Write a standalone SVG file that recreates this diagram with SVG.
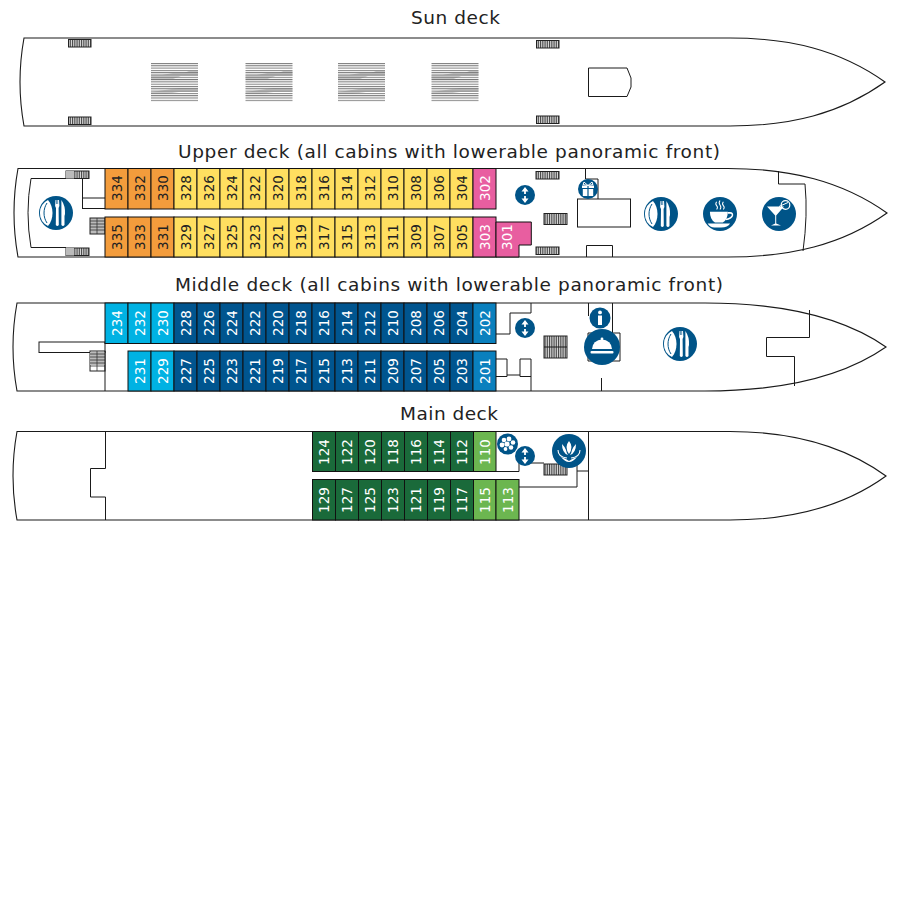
<svg xmlns="http://www.w3.org/2000/svg" xmlns:xlink="http://www.w3.org/1999/xlink" width="900" height="900" viewBox="0 0 900 900">
<style>
.title{font-family:"DejaVu Sans","Liberation Sans",sans-serif;font-size:18.5px;fill:#222;text-anchor:middle}
.ln{fill:none;stroke:#1a1a1a;stroke-width:1}
.box{fill:#fff;stroke:#1a1a1a;stroke-width:1}
.hull{fill:#fff;stroke:#1a1a1a;stroke-width:1.1}
.stair{fill:url(#sv);stroke:#222;stroke-width:1}
.cab rect,.cab path{stroke:#111;stroke-width:1}
.cab text{font-family:"DejaVu Sans","Liberation Sans",sans-serif;font-size:13.5px;text-anchor:middle;dominant-baseline:central}
.or rect{fill:#f39c3c}.ye rect{fill:#ffdf60}.pk rect,.pk path{fill:#e85ea0}
.cy rect{fill:#00b2e3}.db rect{fill:#00558f}.mb rect{fill:#0a80be}
.dg rect{fill:#1a6a3a}.lg rect{fill:#6cb650}
.or text,.ye text{fill:#222}
.pk text,.cy text,.db text,.mb text,.dg text,.lg text{fill:#fff}
.ic{fill:#005488}.w{fill:#fff}.ws{fill:none;stroke:#fff}
</style>
<defs>
<pattern id="sv" width="1.8" height="4" patternUnits="userSpaceOnUse"><rect width="1.8" height="4" fill="#ddd"/><rect width=".9" height="4" fill="#444"/></pattern>
<pattern id="sh" width="4" height="2.3" patternUnits="userSpaceOnUse"><rect width="4" height="1" fill="#777"/></pattern>
<g id="lounger">
<rect width="47" height="39" fill="#fff"/>
<path d="M0,12 L11,12 L22,10 L33,10 L38,8 L47,8 L47,13 L30,13 L22,16 L0,16Z M28,25 L47,25 L47,29 L28,29 L14,31 L0,31 L0,29 L14,27Z" fill="#ccc"/>
<rect width="47" height="39" fill="url(#sh)"/>
</g>
<g id="lift"><circle r="10" class="ic"/><path class="w" d="M0,-8 L3.5,-3.6 L.9,-3.6 L.9,-1 L-.9,-1 L-.9,-3.6 L-3.5,-3.6Z M0,8 L3.5,3.6 L.9,3.6 L.9,1 L-.9,1 L-.9,3.6 L-3.5,3.6Z"/></g>
<g id="dining"><circle r="17" class="ic"/>
<path class="w" d="M-8,-13 A14.5,14.5 0 0 0 -8,13 C-2,6 -2,-6 -8,-13Z"/>
<path d="M-9,-10 C-13,-4 -13,4 -9,10" fill="none" stroke="#005488" stroke-width="1"/>
<path class="w" d="M-.5,-13 L.2,-13 L.2,-9 L.8,-9 L.8,-13 L1.5,-13 L1.5,-9 L2.1,-9 L2.1,-13 L3,-13 L3.4,-7 L2.6,-5 L2.8,12 Q1.3,14 -.2,12 L0,-5 L-.9,-7Z"/>
<path class="w" d="M5.4,-13 Q9.5,-7 9,1 L8.5,3 L8.5,12 Q7,14 5.4,12Z"/>
</g>
</defs>

<text class="title" x="455.5" y="24" textLength="89" lengthAdjust="spacing">Sun deck</text>
<text class="title" x="449" y="158" textLength="542" lengthAdjust="spacing">Upper deck (all cabins with lowerable panoramic front)</text>
<text class="title" x="449" y="291" textLength="548" lengthAdjust="spacing">Middle deck (all cabins with lowerable panoramic front)</text>
<text class="title" x="449" y="420" textLength="98" lengthAdjust="spacing">Main deck</text>

<g id="sun-deck">
<path class="hull" d="M24,38 H730 C790,38 840,50 885,82 C840,114 790,126 730,126 H24 Q16,82 24,38Z"/>
<rect class="stair" x="68.5" y="39.5" width="22.5" height="7.5"/>
<rect class="stair" x="68.5" y="117" width="22.5" height="7.5"/>
<rect class="stair" x="536.5" y="40.5" width="22.5" height="7.5"/>
<rect class="stair" x="536.5" y="116" width="22.5" height="7.5"/>
<use xlink:href="#lounger" href="#lounger" x="151" y="63"/>
<use xlink:href="#lounger" href="#lounger" x="245.5" y="63"/>
<use xlink:href="#lounger" href="#lounger" x="338" y="63"/>
<use xlink:href="#lounger" href="#lounger" x="431.5" y="63"/>
<path class="box" d="M588.5,68 H627 L631,78 V87 L627,96.5 H588.5Z"/>
</g>

<g id="upper-deck">
<path class="hull" d="M18,168.5 H728 C790,168.5 842,181 887,213 C842,245 790,257 728,257 H18 Q10,212.5 18,168.5Z"/>
<path class="ln" d="M66,178.5 H31 Q25,212.5 31,247.5 H66"/>
<path class="ln" d="M82.5,178.5 V209 M82.5,198 H105 M82.5,208.5 H105"/>
<rect class="stair" x="66" y="171" width="23" height="7.5"/><rect x="66" y="171" width="8" height="7.5" fill="#bbb"/>
<rect class="stair" x="66" y="248" width="23" height="7.5"/><rect x="66" y="248" width="8" height="7.5" fill="#bbb"/>
<rect x="90" y="218" width="15" height="16" fill="#bbb" stroke="#222"/>
<path d="M90,221 H105 M90,224 H105 M90,227 H105 M90,230 H105 M97,218 V234" stroke="#333" stroke-width=".8" fill="none"/>
<rect class="stair" x="536" y="171.5" width="23" height="7.5"/>
<rect class="stair" x="544" y="213.5" width="23" height="11"/>
<rect class="stair" x="536" y="247" width="23" height="7.5"/>
<path class="ln" d="M585.5,168.5 V179 H598 V199"/>
<rect class="box" x="577.5" y="199" width="53" height="28"/>
<path class="ln" d="M586.5,257 V245.5 H612.5 V257"/>
<path class="ln" d="M778.5,171 V184 H805 Q808,215 803,251"/>
</g>

<g id="middle-deck">
<path class="hull" d="M17,303 H705 C775,303 840,315 886,347 C840,379 775,391 705,391 H17 Q9,347 17,303Z"/>
<rect class="box" x="39" y="342" width="66" height="10.5"/>
<rect x="90" y="351" width="15" height="20" fill="#fff" stroke="#222"/>
<rect x="90" y="352" width="15" height="13" fill="#bbb"/>
<path d="M90,354 H105 M90,357 H105 M90,360 H105 M90,363 H105 M90,366 H105 M97,351 V371" stroke="#333" stroke-width=".8" fill="none"/>
<path class="ln" d="M105,351 V391"/>
<path class="ln" d="M531,303 V313 H510 V334 H496"/>
<path class="ln" d="M496,359 H507 V376.5 H496 M507,375 H520 M531,359 H520 V376.5 H531 M531,359 V391"/>
<rect class="stair" x="544" y="336" width="23" height="22"/><path class="ln" d="M544,347 H567"/>
<path class="ln" d="M588.5,303 V316 M612.5,303 V333 M588,333 H620 V361 H588Z M601.5,378 V391"/>
<path class="ln" d="M809.5,310 V337.5 H766.5 V356.5 H794.5 V386"/>
</g>

<g id="main-deck">
<path class="hull" d="M17,431.5 H730 C790,431.5 842,444 886,476 C842,508 790,520 730,520 H17 Q9,476 17,431.5Z"/>
<path class="ln" d="M105.5,431.5 V468.5 H90.5 V497 H105.5 V520"/>
<path class="ln" d="M588.5,431.5 V520"/>
<path class="ln" d="M496,471.5 H519 V463 H544 M312,471.5 H496 M312,479.5 H519 M519,487 H577 V471 H588.5 M577,463 V471"/>
<rect class="stair" x="544" y="464" width="23" height="11"/>
</g>

<g id="cabins-upper">
<g id="c334" class="cab or"><rect x="105" y="168.5" width="23" height="40.5"/><text transform="translate(116.5 188) rotate(-90)">334</text></g>
<g id="c332" class="cab or"><rect x="128" y="168.5" width="23" height="40.5"/><text transform="translate(139.5 188) rotate(-90)">332</text></g>
<g id="c330" class="cab or"><rect x="151" y="168.5" width="23" height="40.5"/><text transform="translate(162.5 188) rotate(-90)">330</text></g>
<g id="c328" class="cab ye"><rect x="174" y="168.5" width="23" height="40.5"/><text transform="translate(185.5 188) rotate(-90)">328</text></g>
<g id="c326" class="cab ye"><rect x="197" y="168.5" width="23" height="40.5"/><text transform="translate(208.5 188) rotate(-90)">326</text></g>
<g id="c324" class="cab ye"><rect x="220" y="168.5" width="23" height="40.5"/><text transform="translate(231.5 188) rotate(-90)">324</text></g>
<g id="c322" class="cab ye"><rect x="243" y="168.5" width="23" height="40.5"/><text transform="translate(254.5 188) rotate(-90)">322</text></g>
<g id="c320" class="cab ye"><rect x="266" y="168.5" width="23" height="40.5"/><text transform="translate(277.5 188) rotate(-90)">320</text></g>
<g id="c318" class="cab ye"><rect x="289" y="168.5" width="23" height="40.5"/><text transform="translate(300.5 188) rotate(-90)">318</text></g>
<g id="c316" class="cab ye"><rect x="312" y="168.5" width="23" height="40.5"/><text transform="translate(323.5 188) rotate(-90)">316</text></g>
<g id="c314" class="cab ye"><rect x="335" y="168.5" width="23" height="40.5"/><text transform="translate(346.5 188) rotate(-90)">314</text></g>
<g id="c312" class="cab ye"><rect x="358" y="168.5" width="23" height="40.5"/><text transform="translate(369.5 188) rotate(-90)">312</text></g>
<g id="c310" class="cab ye"><rect x="381" y="168.5" width="23" height="40.5"/><text transform="translate(392.5 188) rotate(-90)">310</text></g>
<g id="c308" class="cab ye"><rect x="404" y="168.5" width="23" height="40.5"/><text transform="translate(415.5 188) rotate(-90)">308</text></g>
<g id="c306" class="cab ye"><rect x="427" y="168.5" width="23" height="40.5"/><text transform="translate(438.5 188) rotate(-90)">306</text></g>
<g id="c304" class="cab ye"><rect x="450" y="168.5" width="23" height="40.5"/><text transform="translate(461.5 188) rotate(-90)">304</text></g>
<g id="c302" class="cab pk"><rect x="473" y="168.5" width="23" height="40.5"/><text transform="translate(484.5 188) rotate(-90)">302</text></g>
<g id="c335" class="cab or"><rect x="105" y="217" width="23" height="40"/><text transform="translate(116.5 237) rotate(-90)">335</text></g>
<g id="c333" class="cab or"><rect x="128" y="217" width="23" height="40"/><text transform="translate(139.5 237) rotate(-90)">333</text></g>
<g id="c331" class="cab or"><rect x="151" y="217" width="23" height="40"/><text transform="translate(162.5 237) rotate(-90)">331</text></g>
<g id="c329" class="cab ye"><rect x="174" y="217" width="23" height="40"/><text transform="translate(185.5 237) rotate(-90)">329</text></g>
<g id="c327" class="cab ye"><rect x="197" y="217" width="23" height="40"/><text transform="translate(208.5 237) rotate(-90)">327</text></g>
<g id="c325" class="cab ye"><rect x="220" y="217" width="23" height="40"/><text transform="translate(231.5 237) rotate(-90)">325</text></g>
<g id="c323" class="cab ye"><rect x="243" y="217" width="23" height="40"/><text transform="translate(254.5 237) rotate(-90)">323</text></g>
<g id="c321" class="cab ye"><rect x="266" y="217" width="23" height="40"/><text transform="translate(277.5 237) rotate(-90)">321</text></g>
<g id="c319" class="cab ye"><rect x="289" y="217" width="23" height="40"/><text transform="translate(300.5 237) rotate(-90)">319</text></g>
<g id="c317" class="cab ye"><rect x="312" y="217" width="23" height="40"/><text transform="translate(323.5 237) rotate(-90)">317</text></g>
<g id="c315" class="cab ye"><rect x="335" y="217" width="23" height="40"/><text transform="translate(346.5 237) rotate(-90)">315</text></g>
<g id="c313" class="cab ye"><rect x="358" y="217" width="23" height="40"/><text transform="translate(369.5 237) rotate(-90)">313</text></g>
<g id="c311" class="cab ye"><rect x="381" y="217" width="23" height="40"/><text transform="translate(392.5 237) rotate(-90)">311</text></g>
<g id="c309" class="cab ye"><rect x="404" y="217" width="23" height="40"/><text transform="translate(415.5 237) rotate(-90)">309</text></g>
<g id="c307" class="cab ye"><rect x="427" y="217" width="23" height="40"/><text transform="translate(438.5 237) rotate(-90)">307</text></g>
<g id="c305" class="cab ye"><rect x="450" y="217" width="23" height="40"/><text transform="translate(461.5 237) rotate(-90)">305</text></g>
<g id="c303" class="cab pk"><rect x="473" y="217" width="23" height="40"/><text transform="translate(484.5 237) rotate(-90)">303</text></g>
<g id="c301" class="cab pk"><path d="M496,222 H531.3 V245 H519 V257 H496Z"/><text transform="translate(507 237) rotate(-90)">301</text></g>
</g>

<g id="cabins-middle">
<g id="c234" class="cab cy"><rect x="105" y="303" width="23" height="40.5"/><text transform="translate(116.5 323) rotate(-90)">234</text></g>
<g id="c232" class="cab cy"><rect x="128" y="303" width="23" height="40.5"/><text transform="translate(139.5 323) rotate(-90)">232</text></g>
<g id="c230" class="cab cy"><rect x="151" y="303" width="23" height="40.5"/><text transform="translate(162.5 323) rotate(-90)">230</text></g>
<g id="c228" class="cab db"><rect x="174" y="303" width="23" height="40.5"/><text transform="translate(185.5 323) rotate(-90)">228</text></g>
<g id="c226" class="cab db"><rect x="197" y="303" width="23" height="40.5"/><text transform="translate(208.5 323) rotate(-90)">226</text></g>
<g id="c224" class="cab db"><rect x="220" y="303" width="23" height="40.5"/><text transform="translate(231.5 323) rotate(-90)">224</text></g>
<g id="c222" class="cab db"><rect x="243" y="303" width="23" height="40.5"/><text transform="translate(254.5 323) rotate(-90)">222</text></g>
<g id="c220" class="cab db"><rect x="266" y="303" width="23" height="40.5"/><text transform="translate(277.5 323) rotate(-90)">220</text></g>
<g id="c218" class="cab db"><rect x="289" y="303" width="23" height="40.5"/><text transform="translate(300.5 323) rotate(-90)">218</text></g>
<g id="c216" class="cab db"><rect x="312" y="303" width="23" height="40.5"/><text transform="translate(323.5 323) rotate(-90)">216</text></g>
<g id="c214" class="cab db"><rect x="335" y="303" width="23" height="40.5"/><text transform="translate(346.5 323) rotate(-90)">214</text></g>
<g id="c212" class="cab db"><rect x="358" y="303" width="23" height="40.5"/><text transform="translate(369.5 323) rotate(-90)">212</text></g>
<g id="c210" class="cab db"><rect x="381" y="303" width="23" height="40.5"/><text transform="translate(392.5 323) rotate(-90)">210</text></g>
<g id="c208" class="cab db"><rect x="404" y="303" width="23" height="40.5"/><text transform="translate(415.5 323) rotate(-90)">208</text></g>
<g id="c206" class="cab db"><rect x="427" y="303" width="23" height="40.5"/><text transform="translate(438.5 323) rotate(-90)">206</text></g>
<g id="c204" class="cab db"><rect x="450" y="303" width="23" height="40.5"/><text transform="translate(461.5 323) rotate(-90)">204</text></g>
<g id="c202" class="cab mb"><rect x="473" y="303" width="23" height="40.5"/><text transform="translate(484.5 323) rotate(-90)">202</text></g>
<g id="c231" class="cab cy"><rect x="128" y="351" width="23" height="40"/><text transform="translate(139.5 371) rotate(-90)">231</text></g>
<g id="c229" class="cab cy"><rect x="151" y="351" width="23" height="40"/><text transform="translate(162.5 371) rotate(-90)">229</text></g>
<g id="c227" class="cab db"><rect x="174" y="351" width="23" height="40"/><text transform="translate(185.5 371) rotate(-90)">227</text></g>
<g id="c225" class="cab db"><rect x="197" y="351" width="23" height="40"/><text transform="translate(208.5 371) rotate(-90)">225</text></g>
<g id="c223" class="cab db"><rect x="220" y="351" width="23" height="40"/><text transform="translate(231.5 371) rotate(-90)">223</text></g>
<g id="c221" class="cab db"><rect x="243" y="351" width="23" height="40"/><text transform="translate(254.5 371) rotate(-90)">221</text></g>
<g id="c219" class="cab db"><rect x="266" y="351" width="23" height="40"/><text transform="translate(277.5 371) rotate(-90)">219</text></g>
<g id="c217" class="cab db"><rect x="289" y="351" width="23" height="40"/><text transform="translate(300.5 371) rotate(-90)">217</text></g>
<g id="c215" class="cab db"><rect x="312" y="351" width="23" height="40"/><text transform="translate(323.5 371) rotate(-90)">215</text></g>
<g id="c213" class="cab db"><rect x="335" y="351" width="23" height="40"/><text transform="translate(346.5 371) rotate(-90)">213</text></g>
<g id="c211" class="cab db"><rect x="358" y="351" width="23" height="40"/><text transform="translate(369.5 371) rotate(-90)">211</text></g>
<g id="c209" class="cab db"><rect x="381" y="351" width="23" height="40"/><text transform="translate(392.5 371) rotate(-90)">209</text></g>
<g id="c207" class="cab db"><rect x="404" y="351" width="23" height="40"/><text transform="translate(415.5 371) rotate(-90)">207</text></g>
<g id="c205" class="cab db"><rect x="427" y="351" width="23" height="40"/><text transform="translate(438.5 371) rotate(-90)">205</text></g>
<g id="c203" class="cab db"><rect x="450" y="351" width="23" height="40"/><text transform="translate(461.5 371) rotate(-90)">203</text></g>
<g id="c201" class="cab mb"><rect x="473" y="351" width="23" height="40"/><text transform="translate(484.5 371) rotate(-90)">201</text></g>
</g>

<g id="cabins-main">
<g id="c124" class="cab dg"><rect x="312.5" y="431.5" width="23" height="40"/><text transform="translate(324 452) rotate(-90)">124</text></g>
<g id="c122" class="cab dg"><rect x="335.5" y="431.5" width="23" height="40"/><text transform="translate(347 452) rotate(-90)">122</text></g>
<g id="c120" class="cab dg"><rect x="358.5" y="431.5" width="23" height="40"/><text transform="translate(370 452) rotate(-90)">120</text></g>
<g id="c118" class="cab dg"><rect x="381.5" y="431.5" width="23" height="40"/><text transform="translate(393 452) rotate(-90)">118</text></g>
<g id="c116" class="cab dg"><rect x="404.5" y="431.5" width="23" height="40"/><text transform="translate(416 452) rotate(-90)">116</text></g>
<g id="c114" class="cab dg"><rect x="427.5" y="431.5" width="23" height="40"/><text transform="translate(439 452) rotate(-90)">114</text></g>
<g id="c112" class="cab dg"><rect x="450.5" y="431.5" width="23" height="40"/><text transform="translate(462 452) rotate(-90)">112</text></g>
<g id="c110" class="cab lg"><rect x="473.5" y="431.5" width="22.5" height="40"/><text transform="translate(485 452) rotate(-90)">110</text></g>
<g id="c129" class="cab dg"><rect x="312.5" y="479.5" width="23" height="40.5"/><text transform="translate(324 500) rotate(-90)">129</text></g>
<g id="c127" class="cab dg"><rect x="335.5" y="479.5" width="23" height="40.5"/><text transform="translate(347 500) rotate(-90)">127</text></g>
<g id="c125" class="cab dg"><rect x="358.5" y="479.5" width="23" height="40.5"/><text transform="translate(370 500) rotate(-90)">125</text></g>
<g id="c123" class="cab dg"><rect x="381.5" y="479.5" width="23" height="40.5"/><text transform="translate(393 500) rotate(-90)">123</text></g>
<g id="c121" class="cab dg"><rect x="404.5" y="479.5" width="23" height="40.5"/><text transform="translate(416 500) rotate(-90)">121</text></g>
<g id="c119" class="cab dg"><rect x="427.5" y="479.5" width="23" height="40.5"/><text transform="translate(439 500) rotate(-90)">119</text></g>
<g id="c117" class="cab dg"><rect x="450.5" y="479.5" width="23" height="40.5"/><text transform="translate(462 500) rotate(-90)">117</text></g>
<g id="c115" class="cab lg"><rect x="473.5" y="479.5" width="22.5" height="40.5"/><text transform="translate(485 500) rotate(-90)">115</text></g>
<g id="c113" class="cab lg"><rect x="496" y="479.5" width="23" height="40.5"/><text transform="translate(507.5 500) rotate(-90)">113</text></g>
</g>

<g id="icon-dining-upper-aft"><use xlink:href="#dining" href="#dining" transform="translate(56 213)"/></g>
<g id="icon-lift-upper"><use xlink:href="#lift" href="#lift" transform="translate(525 195)"/></g>
<g id="icon-gift" transform="translate(588 189)"><circle r="10" class="ic"/>
<path class="w" d="M-6,-3.5 H-.6 V-1 H-6Z M.6,-3.5 H6 V-1 H.6Z M-5.2,0 H-.6 V7 H-5.2Z M.6,0 H5.2 V7 H.6Z"/>
<path class="ws" stroke-width="1" d="M0,-3.5 L-4,-7 L-5,-4.5 L0,-3.5 L4,-7 L5,-4.5 Z"/></g>
<g id="icon-dining-upper"><use xlink:href="#dining" href="#dining" transform="translate(661 214)"/></g>
<g id="icon-coffee" transform="translate(720 214)"><circle r="17" class="ic"/>
<g transform="scale(1.12)">
<path class="ws" stroke-width=".9" d="M-3,-11 q-1.5,2 0,3.5 t0,3.5 M0,-12 q-1.5,2 0,4 t0,4 M3,-11 q-1.5,2 0,3.5 t0,3.5"/>
<path class="w" d="M-9,-2 H7 Q7,5 2.5,7.5 H-4.5 Q-9,5 -9,-2Z"/>
<path class="ws" stroke-width="1.4" d="M7,-1 H9 Q11.5,-1 11,1.5 Q10,4 5,5"/>
<path class="w" d="M-11,8.5 H9 Q7,12 1,12 H-5 Q-9,12 -11,8.5Z"/></g></g>
<g id="icon-cocktail" transform="translate(779 214)"><circle r="17" class="ic"/>
<path class="w" d="M-12,-7.5 H5 L-2.8,1.5 V9.5 L2,11.5 H-8 L-3.8,9.5 V1.5Z"/>
<circle cx="6.5" cy="-9" r="4.3" fill="none" stroke="#fff" stroke-width="1.2"/>
<path class="ws" stroke-width="1" d="M0,-7.5 L9,-11.5"/></g>

<g id="icon-lift-middle"><use xlink:href="#lift" href="#lift" transform="translate(525 328)"/></g>
<g id="icon-info" transform="translate(600 318)"><circle r="10.5" class="ic"/>
<circle cy="-5.6" r="1.9" class="w"/><path class="w" d="M-2,-2.5 H2 V7 H-2Z"/></g>
<g id="icon-bell" transform="translate(602 347)"><circle r="18" class="ic"/>
<circle cy="-8" r="1.4" class="w"/>
<path class="w" d="M-10,2 A10,9.5 0 0 1 10,2Z"/><rect x="-11.5" y="4" width="23" height="2.5" rx="1" class="w"/></g>
<g id="icon-dining-middle"><use xlink:href="#dining" href="#dining" transform="translate(680 344)"/></g>

<g id="icon-spa-stones" transform="translate(507.5 444)"><circle r="10.5" class="ic"/>
<circle cx="-3.5" cy="-4" r="2.3" class="w"/><circle cx="1.5" cy="-5" r="2.4" class="w"/><circle cx="5.5" cy="-1.5" r="2.3" class="w"/><circle cx="-5.5" cy="1" r="2.4" class="w"/><circle cx="-.5" cy="0" r="2.6" class="w"/><circle cx="3.5" cy="3.5" r="2.3" class="w"/><circle cx="-2" cy="5" r="1.9" class="w"/></g>
<g id="icon-lift-main"><use xlink:href="#lift" href="#lift" transform="translate(525 456)"/></g>
<g id="icon-lotus" transform="translate(569 451)"><circle r="17" class="ic"/>
<path class="w" d="M0,-10 Q5,-4 0,3 Q-5,-4 0,-10Z M-7,-7 Q-4,-4 -3,-1 Q-2.5,2 -1,4 Q-7,2 -7,-7Z M7,-7 Q4,-4 3,-1 Q2.5,2 1,4 Q7,2 7,-7Z"/>
<path class="ws" stroke-width="1.1" d="M-11,-1 Q-11,6 -2,7 M11,-1 Q11,6 2,7"/>
<path class="w" d="M-8,6 Q-3,7.5 0,10 Q3,7.5 8,6 Q4,11 0,11 Q-4,11 -8,6Z"/></g>
</svg>
